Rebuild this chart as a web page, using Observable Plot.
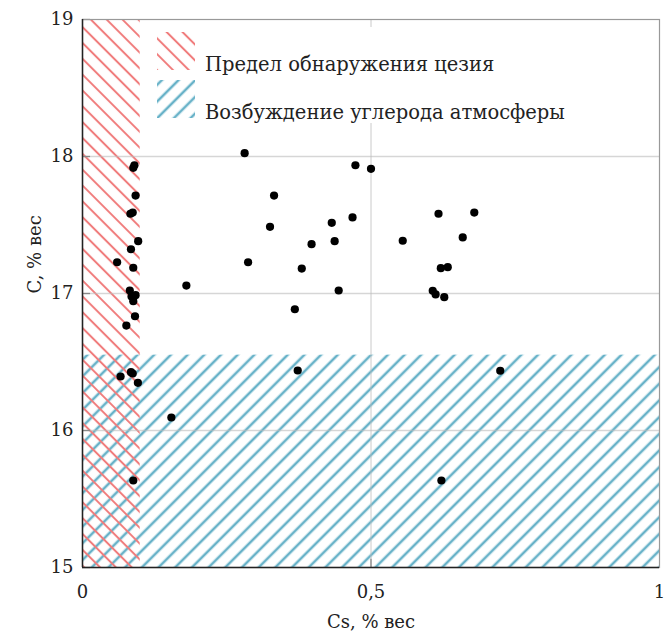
<!DOCTYPE html>
<html><head><meta charset="utf-8">
<script src="https://cdn.jsdelivr.net/npm/d3@7"></script>
<script src="https://cdn.jsdelivr.net/npm/@observablehq/plot@0.6"></script>
<style>body{margin:0;background:#fff}#chart{width:666px}</style>
</head><body><div id="chart"></div>
<script>
// Data
const csValues = [0.088,0.090,0.092,0.083,0.087,0.0965,0.084,0.060,0.088,0.082,0.085,0.092,0.088,0.091,0.076,0.066,0.084,0.087,0.096,0.088,
  0.180,0.154,0.281,0.287,0.332,0.325,0.373,0.368,0.380,0.397,0.432,0.437,0.444,0.468,0.473,0.500,0.555,0.607,0.612,0.627,0.617,0.621,0.633,0.659,0.679,0.724,0.622];
const cValues = [17.917,17.936,17.715,17.582,17.591,17.382,17.323,17.228,17.188,17.022,16.978,16.988,16.944,16.834,16.766,16.394,16.426,16.416,16.348,15.635,
  17.058,16.095,18.024,17.228,17.715,17.487,16.438,16.885,17.182,17.360,17.516,17.382,17.022,17.555,17.936,17.910,17.385,17.020,16.993,16.973,17.582,17.185,17.192,17.409,17.591,16.436,15.635];
const xTicks = [0, 0.5, 1];
const yTicks = [15, 16, 17, 18, 19];
const gridXValues = [0.5];
const gridYValues = [16, 17, 18];
const cesiumLimit = 0.1;      // Cs detection limit
const carbonLimit = 16.55;    // atmospheric carbon excitation
const legendLabels = ["Предел обнаружения цезия", "Возбуждение углерода атмосферы"];
const xLabel = "Cs, % вес";
const yLabel = "C, % вес";

const points = csValues.map((x, i) => ({x, y: cValues[i]}));
const fmt = d => String(d).replace(".", ",");
const FONT = "DejaVu Serif";

const plot = Plot.plot({
  width: 666, height: 633,
  marginLeft: 82, marginRight: 7, marginTop: 19, marginBottom: 66,
  style: {fontFamily: FONT, fontSize: "18px", color: "#222", background: "#fff"},
  x: {domain: [0, 1]},
  y: {domain: [15, 19]},
  marks: [
    Plot.rect([{}], {x1: 0, x2: 1, y1: 15, y2: carbonLimit, fill: "url(#hatch-blue)"}),
    Plot.rect([{}], {x1: 0, x2: cesiumLimit, y1: 15, y2: 19, fill: "url(#hatch-red)"}),
    Plot.gridY(gridYValues, {stroke: "#bbb", strokeOpacity: 0.6, strokeWidth: 1.3}),
    Plot.gridX(gridXValues, {stroke: "#bbb", strokeOpacity: 0.6, strokeWidth: 1.3}),
    Plot.ruleY(yTicks, {x1: 0, x2: 0.014, stroke: "#888", strokeWidth: 1.3}),
    Plot.ruleX(gridXValues, {y1: 15, y2: 15.06, stroke: "#888", strokeWidth: 1.3}),
    Plot.frame({stroke: "#999", strokeWidth: 1.2}),
    Plot.ruleX([0], {stroke: "#222", strokeWidth: 1.5}),
    Plot.ruleY([15], {stroke: "#222", strokeWidth: 1.5}),
    Plot.axisY({ticks: yTicks, tickSize: 0, tickPadding: 9, tickFormat: fmt, label: null, fontSize: 18}),
    Plot.axisX({ticks: xTicks, tickSize: 0, tickPadding: 18, tickFormat: fmt, label: null, fontSize: 18}),
    Plot.text([xLabel], {frameAnchor: "bottom", dy: 55, lineAnchor: "middle", fontSize: 18, fill: "#222"}),
    Plot.text([yLabel], {frameAnchor: "left", dx: -47, rotate: -90, lineAnchor: "middle", fontSize: 18, fill: "#222"}),
    Plot.dot(points, {x: "x", y: "y", r: 4.1, fill: "#000", stroke: "none"})
  ]
});

document.getElementById("chart").appendChild(plot);
const svg = d3.select(plot.tagName.toLowerCase() === "svg" ? plot : plot.querySelector("svg"));
const defs = svg.insert("defs", ":first-child");
function hatch(id, color, angle, gap, sw) {
  const p = defs.append("pattern").attr("id", id).attr("patternUnits", "userSpaceOnUse")
    .attr("width", gap).attr("height", gap).attr("patternTransform", `rotate(${angle})`);
  p.append("line").attr("x1", gap / 2).attr("x2", gap / 2).attr("y1", -1).attr("y2", gap + 1)
    .attr("stroke", color).attr("stroke-width", sw);
}
hatch("hatch-red", "#f07c7c", -45, 11.2, 2);
hatch("hatch-blue", "#68b2c8", 45, 11.8, 2.6);

// Legend (inside the plot, on white)
const lg = svg.append("g").attr("text-anchor", "start");
lg.append("rect").attr("x", 148).attr("y", 27).attr("width", 428).attr("height", 96).attr("fill", "#fff");
const ids = ["hatch-red", "hatch-blue"];
legendLabels.forEach((t, i) => {
  const y0 = 32 + i * 48;
  lg.append("rect").attr("x", 157).attr("y", y0).attr("width", 38).attr("height", 38).attr("fill", `url(#${ids[i]})`);
  lg.append("text").attr("x", 205).attr("y", y0 + 39).attr("text-anchor", "start")
    .attr("font-family", FONT).attr("font-size", 19.5).attr("fill", "#222").text(t);
});
</script></body></html>
